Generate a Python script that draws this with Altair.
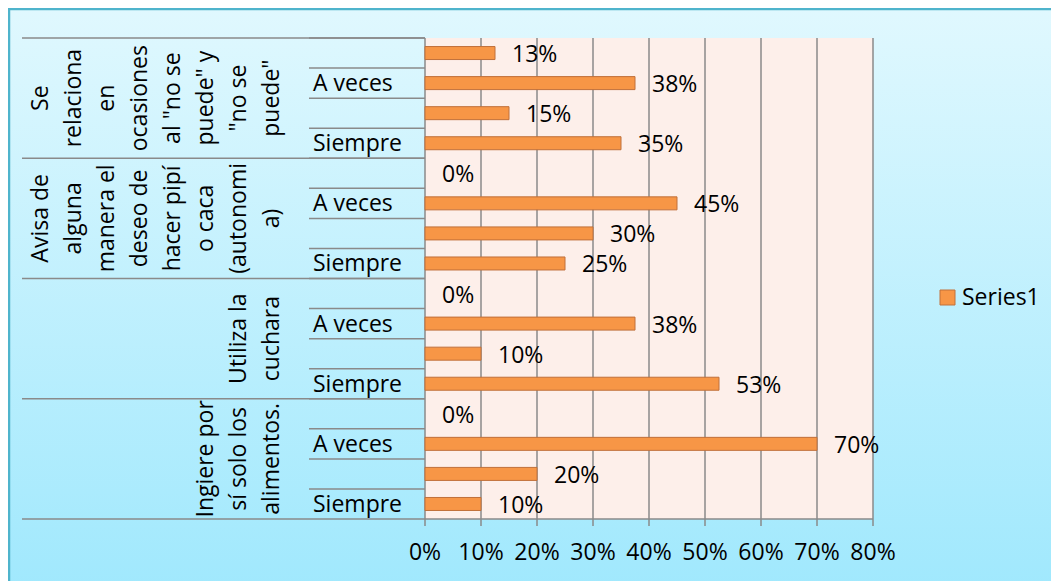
import altair as alt
import pandas as pd

# ---------------- data ----------------
group_lines = [
    ["Se", "relaciona", "en", "ocasiones", 'al "no se', 'puede" y', '"no se', 'puede"'],
    ["Avisa de", "alguna", "manera el", "deseo de", "hacer pipí", "o caca", "(autonomi", "a)"],
    ["Utiliza la", "cuchara"],
    ["Ingiere por", "sí solo los", "alimentos."],
]
sub_labels = ["", "A veces", "", "Siempre"]
values = [
    [0.125, 0.375, 0.15, 0.35],
    [0.0, 0.45, 0.30, 0.25],
    [0.0, 0.375, 0.10, 0.525],
    [0.0, 0.70, 0.20, 0.10],
]
ticks = [0, 0.1, 0.2, 0.3, 0.4, 0.5, 0.6, 0.7, 0.8]
series_name = "Series1"

# ---------------- style / layout ----------------
W, H = 1043, 573
PLOT_X0, PLOT_X1 = 417, 865
PLOT_Y0, PLOT_Y1 = 30, 511
FONT = "Open Sans"
FS = 23
BAR_FILL = "#f79646"
BAR_STROKE = "#c0703a"
GRID = "#8a8a8a"
LINE_H = 33
LAST_LINE_X = 276

rows, bars = [], []
for gi, (lines, vals) in enumerate(zip(group_lines, values)):
    for si, (lab, v) in enumerate(zip(sub_labels, vals)):
        key = f"g{gi}r{si}"
        rows.append(key)
        bars.append({"row": key, "sub": lab, "value": v, "series": series_name,
                     "first": si == 0, "mid": si == 2, "label": "\n".join(lines)})
df = pd.DataFrame(bars)
df_ticks = pd.DataFrame({"t": ticks})

xscale = alt.Scale(domain=[ticks[0], ticks[-1]], range=[PLOT_X0, PLOT_X1], nice=False, zero=True)
yscale = alt.Scale(domain=rows, range=[PLOT_Y0, PLOT_Y1], paddingInner=0, paddingOuter=0)


def Y(bp=None):
    if bp is None:
        return alt.Y("row:N", scale=yscale, axis=None, sort=rows)
    return alt.Y("row:N", scale=yscale, axis=None, sort=rows, bandPosition=bp)


base = alt.Chart(df)

bg = alt.Chart(df_ticks).mark_rect(
    fill={"gradient": "linear", "x1": 0, "y1": 0, "x2": 0, "y2": 1,
          "stops": [{"offset": 0, "color": "#e0f8fe"}, {"offset": 1, "color": "#9fe8fd"}]},
    stroke="#4fb4cc", strokeWidth=2.5,
).encode(x=alt.value(1), x2=alt.value(W + 20), y=alt.value(1), y2=alt.value(H + 20))

plotbg = alt.Chart(df_ticks).mark_rect(fill="#fdefea").encode(
    x=alt.X(datum=ticks[0], scale=xscale, axis=None), x2=alt.X2(datum=ticks[-1]),
    y=alt.value(PLOT_Y0), y2=alt.value(PLOT_Y1))

grid = alt.Chart(df_ticks).mark_rule(color=GRID, strokeWidth=1.5).encode(
    x=alt.X("t:Q", scale=xscale, axis=None), y=alt.value(PLOT_Y0), y2=alt.value(PLOT_Y1 + 7))

sub_lines = base.mark_rule(color=GRID, strokeWidth=1.5).encode(
    y=Y(0), x=alt.value(301), x2=alt.value(PLOT_X0))

group_top = base.transform_filter("datum.first").mark_rule(color=GRID, strokeWidth=1.5).encode(
    y=Y(0), x=alt.value(14), x2=alt.value(PLOT_X0))

bottom_line = base.transform_filter(f"datum.row == '{rows[-1]}'").mark_rule(
    color=GRID, strokeWidth=1.5).encode(y=Y(1), x=alt.value(14), x2=alt.value(PLOT_X1))

bar = base.transform_filter("datum.value > 0").mark_bar(
    size=13, stroke=BAR_STROKE, strokeWidth=1).encode(
    y=Y(),
    x=alt.X("value:Q", scale=xscale, axis=None),
    color=alt.Color("series:N", scale=alt.Scale(range=[BAR_FILL]),
                    legend=alt.Legend(orient="none", legendX=928, legendY=278, title=None,
                                      symbolType="square", symbolSize=225,
                                      symbolStrokeColor=BAR_STROKE, symbolStrokeWidth=1,
                                      symbolFillColor=BAR_FILL,
                                      labelFont=FONT, labelFontSize=FS, labelColor="#000",
                                      labelOffset=3, padding=0)),
)

vlabels = base.mark_text(align="left", baseline="middle", dx=17, dy=2, font=FONT,
                         fontSize=FS, color="#000").encode(
    y=Y(), x=alt.X("value:Q", scale=xscale, axis=None),
    text=alt.Text("value:Q", format=".0%"))

slabels = base.mark_text(align="left", baseline="middle", dy=1, font=FONT, fontSize=FS,
                         color="#000").encode(y=Y(), x=alt.value(305), text="sub:N")

# multi-line rotated group labels: shift the block so that the last line is aligned
glabels = base.transform_filter("datum.mid").transform_calculate(
    shift="length(split(datum.label, '\\n')) - 1"
).mark_text(
    angle=270, align="center", baseline="bottom", lineBreak="\n", lineHeight=LINE_H,
    font=FONT, fontSize=FS, color="#000").encode(
    y=Y(0),
    x=alt.X("shift:Q", scale=alt.Scale(domain=[0, 1], range=[LAST_LINE_X, LAST_LINE_X - LINE_H],
                                       zero=False, nice=False), axis=None),
    text="label:N")

tlabels = alt.Chart(df_ticks).mark_text(baseline="middle", font=FONT, fontSize=FS,
                                        color="#000").encode(
    x=alt.X("t:Q", scale=xscale, axis=None), y=alt.value(545),
    text=alt.Text("t:Q", format=".0%"))

chart = alt.layer(bg, plotbg, grid, sub_lines, group_top, bottom_line, bar, vlabels,
                  slabels, glabels, tlabels).resolve_scale(x="independent").properties(
    width=W, height=H, autosize=alt.AutoSizeParams(type="none"), padding=0,
    background="white",
).configure_view(stroke=None)

chart.save("out.html", embed_options={"renderer": "svg", "actions": False})
